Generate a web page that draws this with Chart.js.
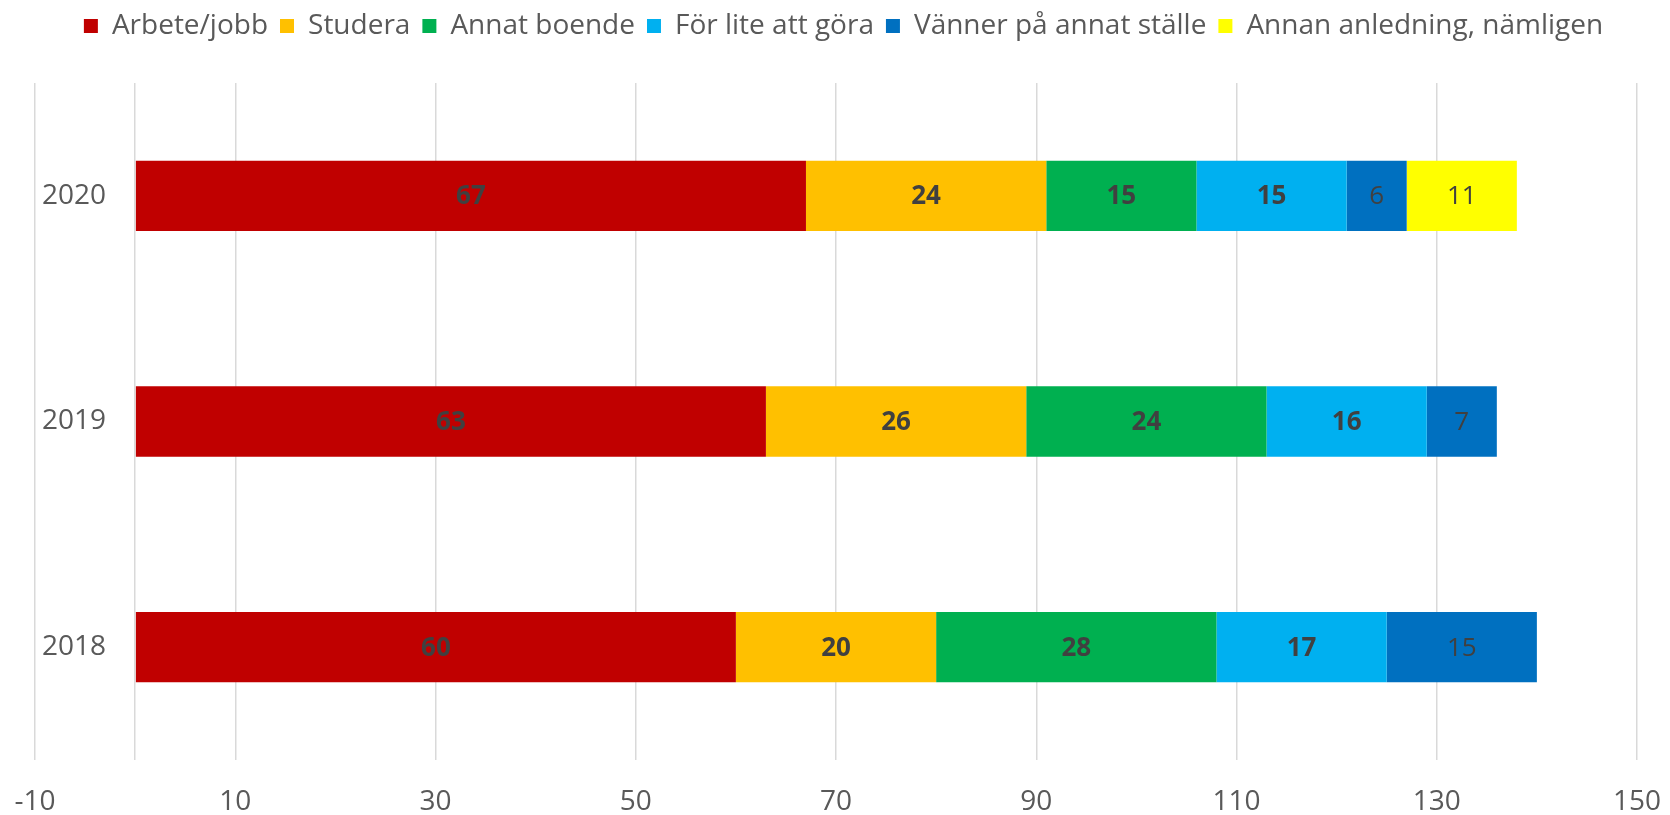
<!DOCTYPE html>
<html>
<head>
<meta charset="utf-8">
<script src="https://cdn.jsdelivr.net/npm/chart.js@4.4.1/dist/chart.umd.min.js"></script>
<style>
    body { margin: 0; background: #fff; }
    #wrap { width: 1670px; height: 815px; position: relative; }
</style>
</head>
<body>
<div id="wrap"><canvas id="chart"></canvas></div>
<script>
const years = ["2020", "2019", "2018"];
const seriesNames = ["Arbete/jobb", "Studera", "Annat boende", "För lite att göra", "Vänner på annat ställe", "Annan anledning, nämligen"];
const arbete = [67, 63, 60];
const studera = [24, 26, 20];
const annatBoende = [15, 24, 28];
const forLite = [15, 16, 17];
const vanner = [6, 7, 15];
const annan = [11, null, null];
const seriesColors = ["#C00000", "#FFC000", "#00B050", "#00B0F0", "#0070C0", "#FFFF00"];
const boldLabels = [true, true, true, true, false, false];

const allValues = [arbete, studera, annatBoende, forLite, vanner, annan];

Chart.defaults.font.family = "'Open Sans', sans-serif";
Chart.defaults.color = "#595959";

// legend height fix so plot area starts where the original does,
// and nudge it right a bit like in the original
const legendHeight = {
    id: "legendHeight",
    beforeInit(chart) {
        const origFit = chart.legend.fit;
        chart.legend.fit = function () {
            origFit.call(this);
            this.height = 83;
        };
    },
    afterLayout(chart) {
        chart.legend.left += 25;
        chart.legend.right += 25;
    }
};

// value labels in the middle of each segment
const barLabels = {
    id: "barLabels",
    afterDatasetsDraw(chart) {
        const ctx = chart.ctx;
        ctx.save();
        ctx.textAlign = "center";
        ctx.textBaseline = "middle";
        ctx.fillStyle = "#404040";
        chart.data.datasets.forEach((ds, i) => {
            const meta = chart.getDatasetMeta(i);
            ctx.font = (boldLabels[i] ? "bold " : "") + "26px 'Open Sans', sans-serif";
            meta.data.forEach((bar, j) => {
                const v = ds.data[j];
                if (v === null || v === undefined) return;
                const p = bar.getProps(["x", "y", "base"], true);
                ctx.fillText(v, (p.x + p.base) / 2, p.y + 1);
            });
        });
        ctx.restore();
    }
};

const datasets = seriesNames.map((name, i) => ({
    label: name,
    data: allValues[i],
    backgroundColor: seriesColors[i],
    borderWidth: 0,
    categoryPercentage: 1,
    barPercentage: 0.312
}));

new Chart(document.getElementById("chart"), {
    type: "bar",
    data: { labels: years, datasets: datasets },
    options: {
        indexAxis: "y",
        responsive: true,
        maintainAspectRatio: false,
        animation: false,
        layout: { padding: { top: 0, right: 33, bottom: 0, left: 0 } },
        plugins: {
            legend: {
                position: "top",
                labels: {
                    boxWidth: 14,
                    boxHeight: 14,
                    padding: 12,
                    color: "#595959",
                    font: { size: 28 }
                }
            },
            tooltip: { enabled: false }
        },
        scales: {
            x: {
                stacked: true,
                min: -10,
                max: 150,
                border: { display: false },
                grid: {
                    drawTicks: true,
                    tickLength: 25,
                    tickColor: "rgba(0,0,0,0)",
                    lineWidth: 1.5,
                    color: c => {
                        const v = c.tick.value;
                        return (v === 0 || (v + 10) % 20 === 0) ? "#D9D9D9" : "rgba(0,0,0,0)";
                    }
                },
                ticks: {
                    stepSize: 10,
                    padding: 0,
                    color: "#595959",
                    font: { size: 28 },
                    autoSkip: false,
                    maxRotation: 0,
                    callback: v => ((v + 10) % 20 === 0 ? v : "")
                },
                afterFit: s => { s.height = 55; }
            },
            y: {
                stacked: true,
                border: { display: false },
                grid: { display: false, drawTicks: false },
                ticks: {
                    mirror: true,
                    padding: 7,
                    color: "#595959",
                    font: { size: 28 }
                },
                afterFit: s => { s.width = 35; }
            }
        }
    },
    plugins: [legendHeight, barLabels]
});
</script>
</body>
</html>
